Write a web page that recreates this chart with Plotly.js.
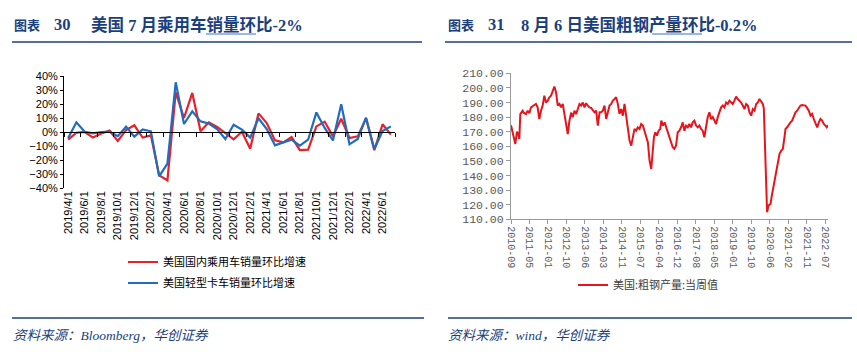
<!DOCTYPE html>
<html>
<head>
<meta charset="utf-8">
<script src="https://cdn.plot.ly/plotly-3.0.1.min.js"></script>
<style>html,body{margin:0;padding:0;background:#fff;}#chart{width:857px;height:354px;}</style>
</head>
<body>
<div id="chart"></div>
<script>
// ---------- Left chart data ----------
const leftCategories = ["2019/4/1","2019/5/1","2019/6/1","2019/7/1","2019/8/1","2019/9/1","2019/10/1","2019/11/1","2019/12/1",
  "2020/1/1","2020/2/1","2020/3/1","2020/4/1","2020/5/1","2020/6/1","2020/7/1","2020/8/1","2020/9/1","2020/10/1","2020/11/1","2020/12/1",
  "2021/1/1","2021/2/1","2021/3/1","2021/4/1","2021/5/1","2021/6/1","2021/7/1","2021/8/1","2021/9/1","2021/10/1","2021/11/1","2021/12/1",
  "2022/1/1","2022/2/1","2022/3/1","2022/4/1","2022/5/1","2022/6/1","2022/7/1"];
const carSalesMoM = [-5.5,-0.5,0,-4,-1,1,-6.4,1.4,4.8,-4,-2.4,-31,-34.5,28.3,10,27.9,0.5,6.9,3.6,-0.7,-5.2,0.2,-11.9,13.3,6.4,-6,-7.4,-3.6,-13,-12.6,4,7.4,-3,9.5,-4.3,-3.1,9.8,-13,5.5,-1.9];
const truckSalesMoM = [-4.3,6.9,0.2,-1,0,0.2,-3,3.8,-3.3,1.9,0.5,-31.7,-22.6,35.5,5.7,14.8,7.6,6,2.1,-5,5.2,1.7,-4,9.8,2.1,-9.5,-7.4,-5.5,-9.8,-5.5,14,2.9,-6,19.8,-8.8,-5,10.2,-12.1,0.7,4];
const leftSeriesNames = ["美国国内乘用车销量环比增速","美国轻型卡车销量环比增速"];

// ---------- Right chart data ----------
const steelDates = ["2010-09-02","2010-10-18","2010-10-31","2010-11-23","2010-12-11","2010-12-25",
 "2011-01-08","2011-02-09","2011-02-23","2011-03-27","2011-04-19","2011-05-12","2011-06-04","2011-07-19","2011-08-11","2011-09-03","2011-09-26","2011-10-19","2011-11-11","2011-12-04","2011-12-27",
 "2012-01-19","2012-02-11","2012-03-05","2012-03-28","2012-04-20","2012-05-13","2012-06-05","2012-06-28","2012-07-21","2012-08-13","2012-09-05","2012-09-28","2012-10-21","2012-11-13","2012-12-06","2012-12-29",
 "2013-01-21","2013-02-13","2013-03-08","2013-03-31","2013-04-23","2013-05-16","2013-06-08","2013-06-30","2013-07-23","2013-08-15","2013-09-07","2013-09-30","2013-10-23","2013-11-15","2013-12-08",
 "2014-01-01","2014-01-23","2014-02-15","2014-03-10","2014-04-02","2014-04-25","2014-05-18","2014-06-10","2014-07-03","2014-07-26","2014-08-17","2014-09-09","2014-10-02","2014-10-25","2014-11-17","2014-12-10",
 "2015-01-02","2015-01-25","2015-02-17","2015-03-12","2015-04-04","2015-04-26","2015-05-19","2015-06-11","2015-07-04","2015-07-27","2015-08-19","2015-09-11","2015-10-04","2015-10-27","2015-11-19","2015-12-12","2015-12-26",
 "2016-01-18","2016-02-05","2016-02-28","2016-03-22","2016-04-14","2016-04-28","2016-05-21","2016-06-13","2016-07-06","2016-07-29","2016-08-21","2016-09-09","2016-10-02","2016-10-25","2016-11-17","2016-12-10",
 "2017-01-02","2017-01-25","2017-02-17","2017-03-12","2017-04-04","2017-04-27","2017-05-19","2017-06-11","2017-07-04","2017-07-27","2017-08-19","2017-09-11","2017-10-04","2017-10-27","2017-11-18","2017-12-11",
 "2018-01-03","2018-01-26","2018-02-18","2018-03-13","2018-04-05","2018-04-28","2018-05-21","2018-06-13","2018-07-06","2018-07-29","2018-08-21","2018-09-13","2018-10-06","2018-10-29","2018-11-21","2018-12-14",
 "2019-01-05","2019-01-28","2019-02-20","2019-03-15","2019-04-07","2019-04-30","2019-05-23","2019-06-15","2019-07-08","2019-07-31","2019-08-23","2019-09-15","2019-10-08","2019-10-31","2019-11-23","2019-12-16",
 "2020-01-07","2020-01-30","2020-02-22","2020-03-07","2020-03-25","2020-04-08","2020-04-21","2020-05-10","2020-06-07","2020-06-25","2020-07-23","2020-08-24","2020-09-16","2020-10-09","2020-11-01","2020-11-23","2020-12-16","2020-12-30",
 "2021-01-21","2021-02-14","2021-03-08","2021-03-31","2021-04-23","2021-05-16","2021-06-08","2021-07-01","2021-07-24","2021-08-16","2021-09-08","2021-10-01","2021-10-23","2021-11-15","2021-12-08","2021-12-31",
 "2022-01-23","2022-02-15","2022-03-10","2022-04-02","2022-04-24","2022-05-17","2022-06-09","2022-07-02","2022-07-20","2022-07-30","2022-08-06"];
const steelOutput = [174.5,162.7,161.6,170,168.5,165,
 182,184.4,183,182,184.4,182.6,186.7,188.3,189,186.7,178.7,184.4,187.9,194.7,190,
 191.3,193.6,194.7,198,200.9,197,187.9,189,186.7,189,182,177.6,168.4,177.6,183,180,
 184.4,182,185.5,189,187.9,190,186.7,189.5,187.9,186.7,186.3,184.4,183.3,184.4,174.2,
 183.3,183.3,184.4,187.9,178.7,183.3,187.9,189,191.3,192.4,193.6,189,182.2,185.5,181,189,
 180,171.9,163.9,160.5,167.3,171.9,170.7,173,171.9,175.3,174.2,170.7,167.3,162.7,150.2,144.5,152.5,
 166.2,169.6,167.3,170.7,171.9,177.6,174.2,176.4,173,169.6,165,162.7,159.3,158.2,160.5,169.6,
 170.7,173,176.4,170.7,174.2,173,175.3,173,176.4,177.6,174.2,173,174.2,171.9,170.7,166.2,
 174.2,180,183.3,178.7,180,177.6,175.3,180,183.3,186.7,187.9,186.7,190,189,191.3,190,
 189,191.3,194,192.4,191.3,190,187.9,185.5,189,187.9,183.3,181,185.5,184.4,189,190,
 192.4,190.8,189,186,150,127,114.8,119.4,120.5,126.2,134.2,143.3,150.2,154.8,157,158.2,166.2,171.9,
 173,175.3,176.4,177.6,180,183.3,184.4,186.7,187.9,188.3,188.3,187.9,186.3,184.4,181,182.2,
 178.7,175.3,173,176.4,178.7,177.6,175.3,174.2,173,173.8,173.4];
const steelTickLabels = ["2010-09","2011-05","2012-01","2012-10","2013-06","2014-03","2014-11","2015-07","2016-04",
 "2016-12","2017-08","2018-05","2019-01","2019-10","2020-06","2021-02","2021-11","2022-07"];
const steelSeriesName = "美国:粗钢产量:当周值";

// ---------- Texts ----------
const NB = "\u00A0";
const titleLabel = "图表";
const leftTitleNo = "30", rightTitleNo = "31";
const leftTitleText = "美国" + NB + "7" + NB + "月乘用车销量环比-2%";
const rightTitleText = "8" + NB + "月" + NB + "6" + NB + "日美国粗钢产量环比-0.2%";
const leftSource = "资料来源：Bloomberg，华创证券";
const rightSource = "资料来源：wind，华创证券";

// ---------- helpers (pixel -> paper) ----------
const W = 857, H = 354;
const px = v => v / W;
const py = v => (H - v) / H;

const RED = "#e8202a", BLUE = "#1f6cc0", NAVY = "#1b3f7c";

const leftIdx = leftCategories.map((c, i) => i);
const leftTickVals = leftIdx.filter(i => i % 2 === 0);
const leftTickText = leftTickVals.map(i => leftCategories[i]);
const leftBoundaryTicks = [];
for (let i = 0; i <= leftCategories.length; i += 2) leftBoundaryTicks.push(i - 0.5);

const t0 = Date.UTC(2010, 8, 2), t1 = Date.UTC(2022, 6, 2);
const steelTickVals = steelTickLabels.map((l, i) => new Date(t0 + (t1 - t0) * i / (steelTickLabels.length - 1)).toISOString().slice(0, 10));

const leftYDomain = [py(188), py(76)];
const zeroPos = (leftYDomain[0] + leftYDomain[1]) / 2;

const traces = [
  {x: leftIdx, y: carSalesMoM, name: leftSeriesNames[0], type: "scatter", mode: "lines",
   line: {color: RED, width: 2.2}, xaxis: "x", yaxis: "y", legend: "legend"},
  {x: leftIdx, y: truckSalesMoM, name: leftSeriesNames[1], type: "scatter", mode: "lines",
   line: {color: BLUE, width: 2.2}, xaxis: "x2", yaxis: "y", legend: "legend2"},
  {x: steelDates, y: steelOutput, name: steelSeriesName, type: "scatter", mode: "lines",
   line: {color: "#e8141c", width: 2}, xaxis: "x3", yaxis: "y3", legend: "legend3"}
];

const titleFont = {family: "Liberation Serif, Noto Sans CJK SC", size: 16.5, color: NAVY};
const titleSmall = {family: "Noto Sans CJK SC", size: 13, color: NAVY};
const legendFont = {family: "Noto Sans CJK SC", size: 11, color: "#000"};
function ann(text, x, y, font) {
  return {text: text, xref: "paper", yref: "paper", x: px(x), y: py(y), xanchor: "left", yanchor: "middle", showarrow: false, font: font};
}
const sourceFont = {family: "Liberation Serif, Noto Sans CJK SC", size: 13.5, color: NAVY};

const layout = {
  width: W, height: H, margin: {l: 0, r: 0, t: 0, b: 0},
  paper_bgcolor: "#fff", plot_bgcolor: "rgba(0,0,0,0)",
  showlegend: true,
  xaxis: {domain: [px(64), px(395)], anchor: "y", type: "linear", range: [-0.5, 39.5],
    showline: false, ticks: "", showgrid: false, zeroline: false,
    tickmode: "array", tickvals: leftTickVals, ticktext: leftTickText, tickangle: -90,
    tickfont: {family: "Liberation Sans, Arial", size: 11, color: "#000"}},
  xaxis2: {overlaying: "x", anchor: "free", position: zeroPos, type: "linear", range: [-0.5, 39.5],
    showline: true, linecolor: "#000", linewidth: 1.3, ticks: "outside", ticklen: 4, tickcolor: "#000", tickwidth: 1,
    tickmode: "array", tickvals: leftBoundaryTicks, showticklabels: false, showgrid: false, zeroline: false},
  yaxis: {domain: leftYDomain, anchor: "x", range: [-40, 40], dtick: 10, tick0: 0, ticksuffix: "%",
    showline: true, linecolor: "#000", linewidth: 1, ticks: "outside", ticklen: 3, tickcolor: "#000",
    showgrid: false, zeroline: false,
    tickfont: {family: "Liberation Sans, Arial", size: 11, color: "#000"}},
  xaxis3: {domain: [px(511), px(828)], anchor: "y3", type: "date", range: [steelDates[0], steelDates[steelDates.length - 1]],
    tickmode: "array", tickvals: steelTickVals, ticktext: steelTickLabels, tickangle: 90,
    showline: true, linecolor: "#9a9a9a", linewidth: 1, ticks: "outside", ticklen: 4, tickcolor: "#9a9a9a",
    showgrid: false, zeroline: false,
    tickfont: {family: "Liberation Mono, DejaVu Sans Mono", size: 10, color: "#595959"}},
  yaxis3: {domain: [py(219.3), py(73.3)], anchor: "x3", range: [110, 210], dtick: 10, tick0: 110, tickformat: ".2f",
    showline: true, linecolor: "#9a9a9a", linewidth: 1, ticks: "outside", ticklen: 4, tickcolor: "#9a9a9a",
    showgrid: false, zeroline: false,
    tickfont: {family: "Liberation Mono, DejaVu Sans Mono", size: 11.5, color: "#595959"}},
  legend: {x: px(123), y: py(262), xanchor: "left", yanchor: "middle", bgcolor: "rgba(0,0,0,0)", font: legendFont},
  legend2: {x: px(123), y: py(283), xanchor: "left", yanchor: "middle", bgcolor: "rgba(0,0,0,0)", font: legendFont},
  legend3: {x: px(573), y: py(285), xanchor: "left", yanchor: "middle", bgcolor: "rgba(0,0,0,0)",
    font: {family: "Noto Sans CJK SC", size: 11, color: "#404040"}},
  annotations: [
    ann("<b>" + titleLabel + "</b>", 12, 25, titleSmall),
    ann("<b>" + leftTitleNo + "</b>", 52, 25, titleFont),
    ann("<b>" + leftTitleText + "</b>", 89, 25, titleFont),
    ann("<b>" + titleLabel + "</b>", 446, 25, titleSmall),
    ann("<b>" + rightTitleNo + "</b>", 486, 25, titleFont),
    ann("<b>" + rightTitleText + "</b>", 519, 25, titleFont),
    ann("<i>" + leftSource + "</i>", 11, 335, sourceFont),
    ann("<i>" + rightSource + "</i>", 446, 335, sourceFont)
  ],
  shapes: [
    {type: "line", xref: "paper", yref: "paper", x0: px(12), x1: px(422), y0: py(42), y1: py(42), line: {color: NAVY, width: 1.6}},
    {type: "line", xref: "paper", yref: "paper", x0: px(445), x1: px(852), y0: py(42), y1: py(42), line: {color: NAVY, width: 1.6}},
    {type: "line", xref: "paper", yref: "paper", x0: px(12), x1: px(424), y0: py(318), y1: py(318), line: {color: NAVY, width: 1.6}},
    {type: "line", xref: "paper", yref: "paper", x0: px(448), x1: px(852), y0: py(318), y1: py(318), line: {color: NAVY, width: 1.6}},
    {type: "line", xref: "paper", yref: "paper", x0: px(206), x1: px(256), y0: py(34), y1: py(34), line: {color: "#3a6fd8", width: 1}},
    {type: "line", xref: "paper", yref: "paper", x0: px(652), x1: px(702), y0: py(34), y1: py(34), line: {color: "#3a6fd8", width: 1}}
  ]
};

Plotly.newPlot("chart", traces, layout, {displayModeBar: false, staticPlot: true});
</script>
</body>
</html>
